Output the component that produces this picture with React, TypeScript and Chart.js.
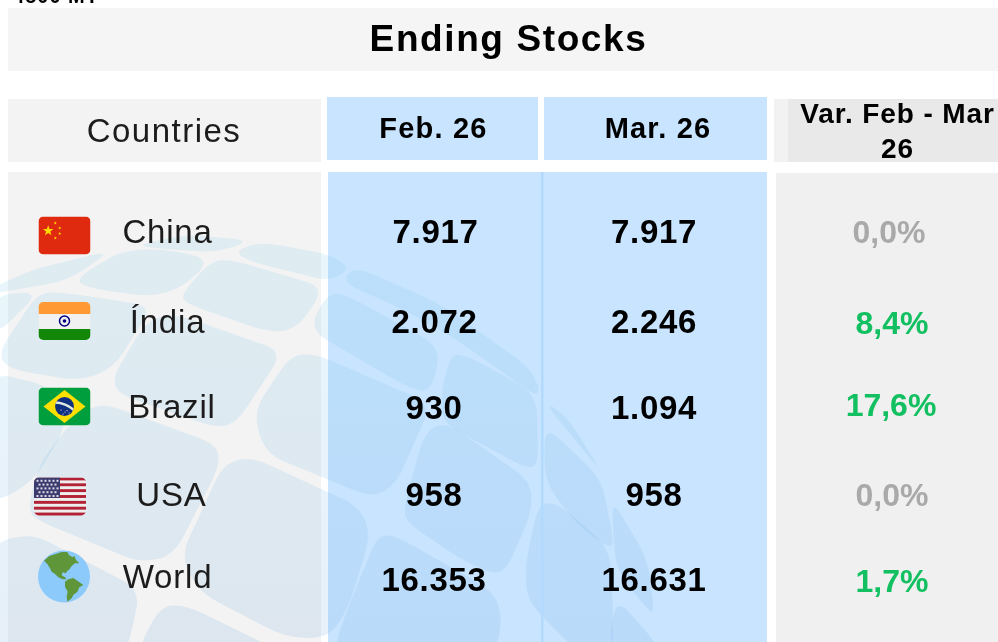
import React, { useEffect, useRef } from "react";
import { Chart, registerables } from "chart.js";

Chart.register(...registerables);

// ---- data ----
const title = "Ending Stocks";
const cutOffCaption = "4500 MT";
const countries = ["China", "Índia", "Brazil", "USA", "World"];
const headerCountries = "Countries";
const headerFeb = "Feb. 26";
const headerMar = "Mar. 26";
const headerVar = ["Var. Feb - Mar", "26"];
const feb26 = [7917, 2072, 930, 958, 16353];
const mar26 = [7917, 2246, 1094, 958, 16631];
const variation = [0.0, 8.4, 17.6, 0.0, 1.7];

// ---- layout (pixel space of the hidden linear scales) ----
const W = 998;
const H = 642;
const nameX = [167.5, 167.5, 172, 171.5, 167.5];
const nameY = [243, 333, 418, 506, 588];
const febX = [435.5, 434.5, 434, 434, 434];
const marX = [654, 654, 654, 654, 654];
const valY = [243, 333, 419, 506, 591];
const varX = [889, 892, 891, 892, 892];
const varY = [243, 334, 416, 506, 592];

const BLOBS: number[][] = [
  [140,245,187,235,248,241,213,252,157,248],
  [238,252,263,243,328,255,347,268,327,280,300,273,253,262],
  [78,280,120,253,160,250,207,260,180,287,150,295,97,288],
  [-5,287,33,270,107,252,67,280,-5,293],
  [185,295,213,263,233,262,320,288,293,327,267,330,190,303],
  [2,353,40,295,67,296,147,308,110,367,77,378,13,367],
  [-5,295,38,293,-5,335],
  [117,377,150,323,177,318,277,353,233,420,213,424,123,393],
  [313,330,330,297,347,297,437,347,427,390,403,383],
  [258,413,293,360,315,358,425,405,392,480,370,493,270,452],
  [43,467,73,427,100,407,210,447,213,467,170,550,140,558,47,520,33,510],
  [-5,376,50,390,65,425,33,478,-5,500],
  [187,557,227,470,253,463,355,510,365,537,343,607,325,633,285,632,205,590],
  [-5,547,33,537,135,590,122,650,-5,650],
  [140,650,163,607,187,607,275,650],
  [407,510,427,437,447,427,527,483,527,513,500,573,463,557,413,523],
  [443,400,453,357,470,360,533,395,535,460,525,465,447,423],
  [348,285,360,270,440,305,527,367,535,395,453,337,405,310],
  [545,403,567,417,600,470],
  [547,430,600,480,612,540,607,545,577,523,547,483],
  [528,567,540,510,557,507,607,550,610,600,610,650,580,650,530,600],
  [613,503,647,560,653,610,647,607,617,570],
  [617,600,653,640,655,650,610,650],
  [345,627,380,540,397,540,490,593,497,620,490,650,340,650],
];

const NORTH_AMERICA = [72,62,88,48,100,44,125,36,142,36,147,45,158,52,163,47,168,60,178,70,165,70,155,78,147,90,142,92,138,100,128,97,125,106,135,112,140,118,128,118,115,112,105,102,95,95,90,85,82,72];
const SOUTH_AMERICA = [135,125,145,118,160,114,172,122,190,135,178,142,172,155,160,165,155,175,142,185,140,170,143,155,135,140];

const fmtInt = (n: number) => String(n).replace(/\B(?=(\d{3})+(?!\d))/g, ".");
const fmtPct = (n: number) => n.toFixed(1).replace(".", ",") + "%";

function roundPoly(ctx: CanvasRenderingContext2D, src: number[], d: number, grow: number) {
  const n = src.length / 2;
  let mx = 0, my = 0;
  for (let i = 0; i < n; i++) { mx += src[i * 2] / n; my += src[i * 2 + 1] / n; }
  const p = src.map((v, i) => (i % 2 ? my + (v - my) * grow : mx + (v - mx) * grow));
  const pt = (i: number) => [p[((i + n) % n) * 2], p[((i + n) % n) * 2 + 1]];
  const toward = (a: number[], b: number[]) => {
    const len = Math.hypot(b[0] - a[0], b[1] - a[1]);
    const t = Math.min(d, len * 0.48) / len;
    return [a[0] + (b[0] - a[0]) * t, a[1] + (b[1] - a[1]) * t];
  };
  ctx.beginPath();
  for (let i = 0; i < n; i++) {
    const c = pt(i);
    const s = toward(c, pt(i - 1));
    const e = toward(c, pt(i + 1));
    if (i === 0) ctx.moveTo(s[0], s[1]); else ctx.lineTo(s[0], s[1]);
    ctx.quadraticCurveTo(c[0], c[1], e[0], e[1]);
  }
  ctx.closePath();
}

function rr(ctx: CanvasRenderingContext2D, x: number, y: number, w: number, h: number, r: number) {
  ctx.beginPath();
  ctx.roundRect(x, y, w, h, r);
}

function star(ctx: CanvasRenderingContext2D, cx: number, cy: number, R: number) {
  ctx.beginPath();
  for (let i = 0; i < 10; i++) {
    const a = -Math.PI / 2 + (i * Math.PI) / 5;
    const q = i % 2 ? R * 0.4 : R;
    ctx.lineTo(cx + q * Math.cos(a), cy + q * Math.sin(a));
  }
  ctx.closePath();
  ctx.fill();
}

function drawFlag(ctx: CanvasRenderingContext2D, name: string, x: number, y: number) {
  const w = 52, h = 38;
  ctx.save();
  if (name === "World") {
    ctx.fillStyle = "#8ccafc";
    ctx.beginPath();
    ctx.arc(x + 26, y + 26, 26, 0, Math.PI * 2);
    ctx.fill();
    ctx.fillStyle = "#5e9639";
    [NORTH_AMERICA, SOUTH_AMERICA].forEach((p) => {
      ctx.beginPath();
      for (let i = 0; i < p.length; i += 2) ctx.lineTo(p[i] / 3 + 20, p[i + 1] / 3 + 540);
      ctx.closePath();
      ctx.fill();
    });
    ctx.restore();
    return;
  }
  rr(ctx, x, y, w, h, 5);
  ctx.clip();
  if (name === "China") {
    ctx.fillStyle = "#e02a10";
    ctx.fillRect(x, y, w, h);
    ctx.fillStyle = "#ffdc00";
    star(ctx, x + 9.7, y + 14.2, 5.5);
    [[16.8, 6.5], [21.2, 11.5], [21.2, 17], [16.8, 21.5]].forEach(([a, b]) => star(ctx, x + a, y + b, 1.7));
  } else if (name === "Índia") {
    ctx.fillStyle = "#ff9933"; ctx.fillRect(x, y, w, 12);
    ctx.fillStyle = "#f1f1f1"; ctx.fillRect(x, y + 12, w, 15);
    ctx.fillStyle = "#138808"; ctx.fillRect(x, y + 27, w, 11);
    ctx.strokeStyle = "#000080"; ctx.lineWidth = 1.5;
    ctx.beginPath(); ctx.arc(x + 26, y + 19, 5, 0, Math.PI * 2); ctx.stroke();
    ctx.fillStyle = "#000080";
    ctx.beginPath(); ctx.arc(x + 26, y + 19, 1.8, 0, Math.PI * 2); ctx.fill();
  } else if (name === "Brazil") {
    ctx.fillStyle = "#009e3d"; ctx.fillRect(x, y, w, h);
    ctx.fillStyle = "#ffdf00";
    ctx.beginPath();
    ctx.moveTo(x + 5, y + 19); ctx.lineTo(x + 26, y + 2.5); ctx.lineTo(x + 47, y + 19); ctx.lineTo(x + 26, y + 35.5);
    ctx.closePath(); ctx.fill();
    ctx.fillStyle = "#0f2f80";
    ctx.beginPath(); ctx.arc(x + 26, y + 19, 9.4, 0, Math.PI * 2); ctx.fill();
    ctx.save();
    ctx.beginPath(); ctx.arc(x + 26, y + 19, 9.4, 0, Math.PI * 2); ctx.clip();
    ctx.strokeStyle = "#dfe9df"; ctx.lineWidth = 2.4;
    ctx.beginPath(); ctx.moveTo(x + 16, y + 15); ctx.quadraticCurveTo(x + 27, y + 15, x + 36, y + 23); ctx.stroke();
    ctx.fillStyle = "#b9c8e6";
    [[22, 22], [26, 24], [30, 25], [24, 26], [28, 22.5]].forEach(([a, b]) => ctx.fillRect(x + a, y + b, 1.1, 1.1));
    ctx.restore();
  } else {
    const stripe = h / 13;
    for (let i = 0; i < 13; i++) {
      ctx.fillStyle = i % 2 ? "#eeeeee" : "#b22234";
      ctx.fillRect(x, y + i * stripe, w, stripe + 0.5);
    }
    ctx.fillStyle = "#3c3b6e";
    ctx.fillRect(x, y, 26, stripe * 7);
    ctx.fillStyle = "#dcdce8";
    for (let r = 0; r < 5; r++) {
      for (let c = 0; c < 5 + (r % 2 ? 0 : 1); c++) {
        ctx.fillRect(x + (r % 2 ? 4.5 : 2.5) + c * 4, y + 2.3 + r * 3.8, 2, 2);
      }
    }
  }
  ctx.restore();
}

const flagBox: Record<string, [number, number]> = {
  China: [38.5, 216.5],
  "Índia": [38.5, 302],
  Brazil: [38.5, 387.5],
  USA: [34, 477.5],
  World: [38, 550.5],
};

type Label = { text: string; font: string; color: string; spacing: number };

const F = "'Liberation Sans', Arial, sans-serif";
const nameStyle = { font: `400 33px ${F}`, color: "#1c1c1c", spacing: 0.8 };
const valueStyle = { font: `700 33px ${F}`, color: "#000000", spacing: 0.7 };
const headStyle = { font: `700 29px ${F}`, color: "#000000", spacing: 1.2 };
const varHeadStyle = { font: `700 28px ${F}`, color: "#000000", spacing: 0.9 };

// invisible points carry each text through the scales
const textPoints = (xs: number[], ys: number[], labels: Label[]) => ({
  data: labels.map((_, i) => ({ x: xs[i], y: ys[i] })),
  labels,
  pointRadius: 0,
  showLine: false,
});

const panels = [
  [8, 8, 990, 63, "#f5f5f5"],
  [8, 99, 313, 63, "#f3f3f3"],
  [327, 97, 211, 63, "#c8e4ff"],
  [544, 97, 223, 63, "#c8e4ff"],
  [774, 99, 224, 63, "#f2f2f2"],
  [788, 99, 210, 63, "#e9e9e9"],
  [8, 172, 313, 470, "#f3f3f3"],
  [328, 172, 439, 470, "#c8e4ff"],
  [776, 173, 222, 469, "#f0f0f0"],
] as const;

const tablePlugin = {
  id: "table",
  beforeDatasetsDraw(chart: any) {
    const { ctx, scales } = chart;
    const sx = (v: number) => scales.x.getPixelForValue(v);
    const sy = (v: number) => scales.y.getPixelForValue(v);
    ctx.save();
    ctx.fillStyle = "#ffffff";
    ctx.fillRect(0, 0, W, H);
    panels.forEach(([x, y, w, h, c]) => {
      ctx.fillStyle = c;
      ctx.fillRect(sx(x), sy(y), w, h);
    });
    const overlay = ctx.createLinearGradient(0, 235, 0, 642);
    overlay.addColorStop(0, "rgba(130,205,235,0.18)");
    overlay.addColorStop(1, "rgba(125,175,225,0.19)");
    ctx.fillStyle = overlay;
    BLOBS.forEach((b) => {
      roundPoly(ctx, b, 20, 1.07);
      ctx.fill();
    });
    ctx.fillStyle = "#b2daff";
    ctx.fillRect(sx(541), sy(172), 2.5, 470);
    countries.forEach((n) => drawFlag(ctx, n, flagBox[n][0], flagBox[n][1]));
    ctx.restore();
  },
  afterDatasetsDraw(chart: any) {
    const { ctx } = chart;
    ctx.save();
    ctx.textAlign = "center";
    ctx.textBaseline = "alphabetic";
    chart.data.datasets.forEach((ds: any, di: number) => {
      const meta = chart.getDatasetMeta(di);
      ds.labels.forEach((l: Label, i: number) => {
        const p = meta.data[i];
        ctx.font = l.font;
        ctx.fillStyle = l.color;
        ctx.letterSpacing = `${l.spacing}px`;
        ctx.fillText(l.text, p.x, p.y);
      });
    });
    ctx.restore();
  },
};

export default function App() {
  const ref = useRef<HTMLCanvasElement>(null);
  useEffect(() => {
    const chart = new Chart(ref.current!, {
      type: "scatter",
      data: {
        datasets: [
          textPoints(
            [508.5, 56, 164, 433.5, 658, 897.5, 897.5],
            [51, 3, 142, 138, 138, 123, 158],
            [
              { text: title, font: `700 37px ${F}`, color: "#000000", spacing: 1.6 },
              { text: cutOffCaption, font: `700 20px ${F}`, color: "#000000", spacing: 1 },
              { text: headerCountries, font: `400 33px ${F}`, color: "#1c1c1c", spacing: 1.5 },
              { text: headerFeb, ...headStyle },
              { text: headerMar, ...headStyle },
              { text: headerVar[0], ...varHeadStyle },
              { text: headerVar[1], ...varHeadStyle },
            ]
          ),
          textPoints(nameX, nameY, countries.map((c) => ({ text: c, ...nameStyle }))),
          textPoints(febX, valY, feb26.map((v) => ({ text: fmtInt(v), ...valueStyle }))),
          textPoints(marX, valY, mar26.map((v) => ({ text: fmtInt(v), ...valueStyle }))),
          textPoints(
            varX,
            varY,
            variation.map((v) => ({
              text: fmtPct(v),
              font: `700 32px ${F}`,
              color: v === 0 ? "#a9a9a9" : "#12c061",
              spacing: 0,
            }))
          ),
        ] as any,
      },
      options: {
        animation: false,
        responsive: false,
        events: [],
        layout: { padding: 0 },
        plugins: { legend: { display: false }, tooltip: { enabled: false }, title: { display: false } },
        scales: {
          x: { type: "linear", min: 0, max: W, display: false },
          y: { type: "linear", min: 0, max: H, reverse: true, display: false },
        },
      },
      plugins: [tablePlugin],
    });
    return () => chart.destroy();
  }, []);
  return (
    <div style={{ position: "fixed", left: 0, top: 0, width: W, height: H, overflow: "hidden" }}>
      <canvas ref={ref} width={W} height={H} style={{ display: "block" }} />
    </div>
  );
}
